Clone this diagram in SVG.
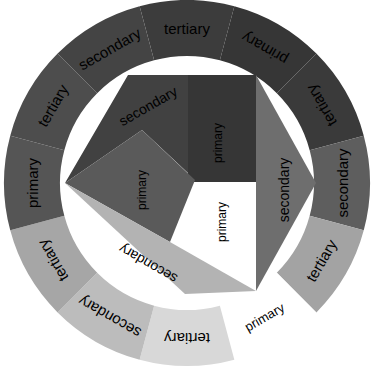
<svg xmlns="http://www.w3.org/2000/svg" width="374" height="367" viewBox="0 0 374 367">
<style>
.t{font-family:"Liberation Sans",Arial,sans-serif;font-size:15px;fill:#000;text-anchor:middle;dominant-baseline:central}
.i{font-family:"Liberation Sans",Arial,sans-serif;fill:#000;text-anchor:middle;dominant-baseline:central}
</style>
<rect width="374" height="367" fill="#fff"/>
<g id="ring">
<g id="seg0"><path d="M139.64,6.24 A183,183 0 0 1 234.36,6.24 L219.87,60.33 A127,127 0 0 0 154.13,60.33Z" fill="#3c3c3c"/><text class="t" transform="translate(187,183) rotate(0) translate(0,-155)">tertiary</text></g>
<g id="seg30"><path d="M234.36,6.24 A183,183 0 0 1 316.40,53.60 L276.80,93.20 A127,127 0 0 0 219.87,60.33Z" fill="#363636"/><text class="t" transform="translate(187,183) rotate(30) translate(0,-155) rotate(180)">primary</text></g>
<g id="seg60"><path d="M316.40,53.60 A183,183 0 0 1 363.76,135.64 L309.67,150.13 A127,127 0 0 0 276.80,93.20Z" fill="#3a3a3a"/><text class="t" transform="translate(187,183) rotate(60) translate(0,-155) rotate(180)">tertiary</text></g>
<g id="seg90"><path d="M363.76,135.64 A183,183 0 0 1 363.76,230.36 L309.67,215.87 A127,127 0 0 0 309.67,150.13Z" fill="#5e5e5e"/><text class="t" transform="translate(187,183) rotate(90) translate(0,-155) rotate(180)">secondary</text></g>
<g id="seg120"><path d="M363.76,230.36 A183,183 0 0 1 316.40,312.40 L276.80,272.80 A127,127 0 0 0 309.67,215.87Z" fill="#a3a3a3"/><text class="t" transform="translate(187,183) rotate(120) translate(0,-155) rotate(180)">tertiary</text></g>
<g id="seg150"><path d="M316.40,312.40 A183,183 0 0 1 234.36,359.76 L219.87,305.67 A127,127 0 0 0 276.80,272.80Z" fill="#fff"/><text class="t" style="font-size:13px" transform="translate(187,183) rotate(150) translate(0,-155) rotate(180)">primary</text></g>
<g id="seg180"><path d="M234.36,359.76 A183,183 0 0 1 139.64,359.76 L154.13,305.67 A127,127 0 0 0 219.87,305.67Z" fill="#d8d8d8"/><text class="t" transform="translate(187,183) rotate(180) translate(0,-155)">tertiary</text></g>
<g id="seg210"><path d="M139.64,359.76 A183,183 0 0 1 57.60,312.40 L97.20,272.80 A127,127 0 0 0 154.13,305.67Z" fill="#bcbcbc"/><text class="t" transform="translate(187,183) rotate(210) translate(0,-155)">secondary</text></g>
<g id="seg240"><path d="M57.60,312.40 A183,183 0 0 1 10.24,230.36 L64.33,215.87 A127,127 0 0 0 97.20,272.80Z" fill="#a6a6a6"/><text class="t" transform="translate(187,183) rotate(240) translate(0,-155)">tertiary</text></g>
<g id="seg270"><path d="M10.24,230.36 A183,183 0 0 1 10.24,135.64 L64.33,150.13 A127,127 0 0 0 64.33,215.87Z" fill="#555"/><text class="t" transform="translate(187,183) rotate(270) translate(0,-155)">primary</text></g>
<g id="seg300"><path d="M10.24,135.64 A183,183 0 0 1 57.60,53.60 L97.20,93.20 A127,127 0 0 0 64.33,150.13Z" fill="#4d4d4d"/><text class="t" transform="translate(187,183) rotate(300) translate(0,-155)">tertiary</text></g>
<g id="seg330"><path d="M57.60,53.60 A183,183 0 0 1 139.64,6.24 L154.13,60.33 A127,127 0 0 0 97.20,93.20Z" fill="#444"/><text class="t" transform="translate(187,183) rotate(330) translate(0,-155)">secondary</text></g>
</g>
<g id="inner">
<g id="in-secondary-top"><polygon points="128,75 188,75 188,173 142,130 65,183" fill="#414141"/><text class="i" style="font-size:14px" transform="translate(148,106) rotate(-30)">secondary</text></g>
<g id="in-primary-top"><polygon points="188,75 256,75 256,182 188,182" fill="#363636"/><text class="i" style="font-size:12px" transform="translate(218,143) rotate(-90)">primary</text></g>
<g id="in-primary-left"><polygon points="65,183 142,130 195,180 170,242" fill="#5a5a5a"/><text class="i" style="font-size:12px" transform="translate(142,190) rotate(-90)">primary</text></g>
<g id="in-primary-white"><text class="i" style="font-size:12px" transform="translate(222,222) rotate(-90)">primary</text></g>
<g id="in-secondary-bottom"><polygon points="65,183 170,242 256,291 185,294" fill="#b3b3b3"/><text class="i" style="font-size:14px" transform="translate(148,264) rotate(210)">secondary</text></g>
<g id="in-secondary-right"><polygon points="256,75 316,183 256,291" fill="#6e6e6e"/><text class="i" style="font-size:14px" transform="translate(284,190) rotate(-90)">secondary</text></g>
</g>
</svg>
